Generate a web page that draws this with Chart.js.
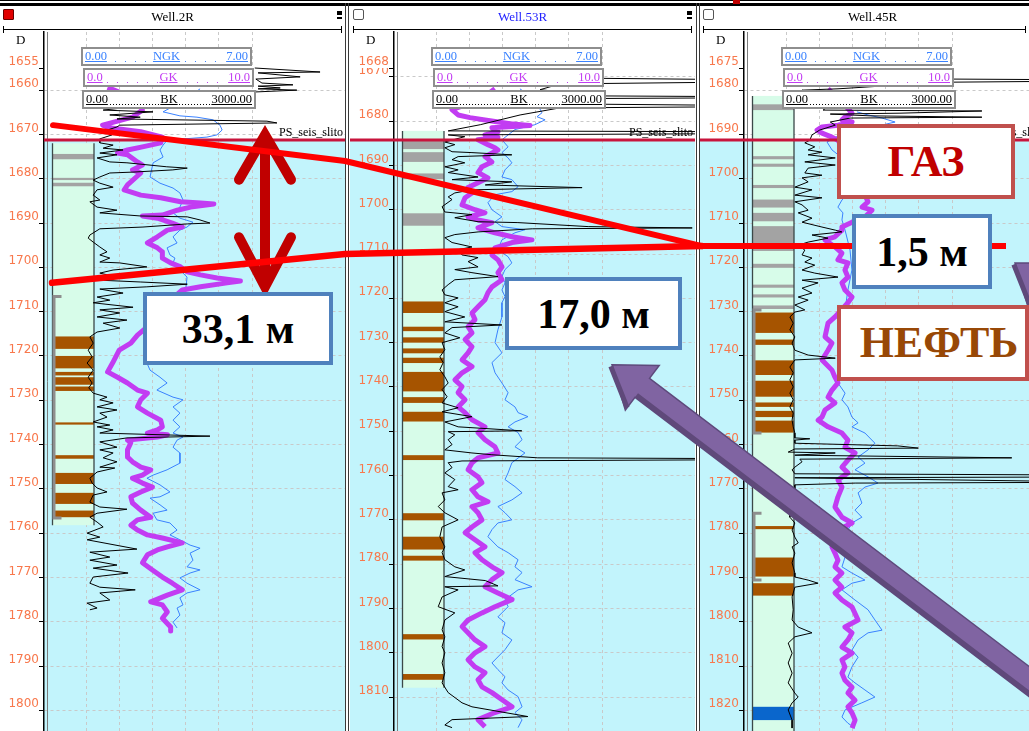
<!DOCTYPE html>
<html lang="ru">
<head>
<meta charset="utf-8">
<title>Well.2R – Well.53R – Well.45R</title>
<script src="https://cdn.jsdelivr.net/npm/chart.js@4.4.1/dist/chart.umd.min.js"></script>
<style>
html,body{margin:0;padding:0;background:#fff;}
#slide{position:relative;width:1029px;height:731px;overflow:hidden;background:#fff;font-family:"Liberation Serif",serif;}
#slide canvas{position:absolute;top:0;}
.bar{position:absolute;left:0;width:1029px;background:#000;}
.sep{position:absolute;top:3px;height:728px;width:1px;background:#3a3a3a;}
.title{position:absolute;top:9px;width:345px;font:13px "Liberation Serif",serif;text-align:center;line-height:15px;}
.rule{position:absolute;top:29px;height:1px;background:#000;}
.rule:before,.rule:after{content:"";position:absolute;top:-3px;width:1px;height:7px;background:#000;}
.rule:before{left:0}.rule:after{right:0}
.chk{position:absolute;top:9px;width:11px;height:11px;box-sizing:border-box;border:1px solid #555;border-radius:2px;background:#fff;}
.chk.on{background:#e00000;border-color:#600;border-radius:1px;}
.pin{position:absolute;top:11px;width:5px;height:4px;background:#000;}
.pin:after{content:"";position:absolute;left:0;top:6px;width:5px;height:2px;background:#000;}
.dlab{position:absolute;top:33px;font:13px "Liberation Serif",serif;line-height:14px;}
.hdr{position:absolute;box-sizing:border-box;height:19px;border:2px solid #8e8e8e;background:#fff;font:12.5px "Liberation Serif",serif;}
.hdr .dots{position:absolute;left:2px;right:2px;bottom:2px;height:1px;}
.hdr span{position:absolute;bottom:1px;line-height:13px;background:#fff;text-decoration:underline;padding:0 1px;}
.note{position:absolute;box-sizing:border-box;background:#fff;border:4px solid #4f81bd;display:flex;align-items:center;justify-content:center;font:bold 42px "Liberation Serif",serif;color:#000;line-height:1;}
.note.fluid{border-color:#c0504d;font-size:44px;}
</style>
</head>
<body>
<div id="slide">
  <canvas id="well0" width="345" height="731" style="left:0px"></canvas>
  <canvas id="well1" width="345" height="731" style="left:350px"></canvas>
  <canvas id="well2" width="345" height="731" style="left:700px"></canvas>
  <div id="chrome"></div>
  <canvas id="overlay" width="1029" height="731" style="left:0px"></canvas>
  <div class="note" style="left:143px;top:292px;width:190px;height:73px;">33,1 м</div>
  <div class="note" style="left:505px;top:277px;width:177px;height:73px;">17,0 м</div>
  <div class="note fluid" style="left:837px;top:124px;width:178px;height:75px;color:#c00000;">ГАЗ</div>
  <div class="note" style="left:852px;top:214px;width:140px;height:75px;">1,5 м</div>
  <div class="note fluid" style="left:837px;top:305px;width:192px;height:76px;color:#984806;padding-left:12px;">НЕФТЬ</div>
</div>
<script>
// ---------- wells, depth labels ----------
const WELL_NAMES = ['Well.2R', 'Well.53R', 'Well.45R'];
const WELL_TITLE_COLORS = ['#000000', '#2323ff', '#000000'];
const START_DEPTH = [1655, 1668, 1675];          // first (top) depth label of each track
const DEPTH_TICKS_2R  = [1660,1670,1680,1690,1700,1710,1720,1730,1740,1750,1760,1770,1780,1790,1800];
const DEPTH_TICKS_53R = [1670,1680,1690,1700,1710,1720,1730,1740,1750,1760,1770,1780,1790,1800,1810];
const DEPTH_TICKS_45R = [1680,1690,1700,1710,1720,1730,1740,1750,1760,1770,1780,1790,1800,1810,1820];
const HORIZON_DEPTH = [1671.25, 1684.25, 1691.25]; // PS_seis_slito
const HORIZON_NAME = 'PS_seis_slito';

// ---------- curve scales ----------
const CURVES = [
  {name: 'NGK', lo: 0, hi: 7,    loText: '0.00', hiText: '7.00',    color: '#3a82ff'},
  {name: 'GK',  lo: 0, hi: 10,   loText: '0.0',  hiText: '10.0',    color: '#c23cf2'},
  {name: 'BK',  lo: 0, hi: 3000, loText: '0.00', hiText: '3000.00', color: '#000000'}
];

// ---------- Well.2R logs: [depth, value] ----------
const GK_2R = [[1659.4,1.3],[1660.0,1.7],[1662.0,3.0],[1664.5,3.4],[1666.1,2.8],[1667.9,1.0],[1668.5,1.4],[1669.4,3.3],[1670.6,4.6],[1671.9,4.5],[1672.8,3.4],[1673.5,2.5],[1674.2,1.9],[1674.6,2.5],[1676.2,3.1],[1676.9,3.4],[1678.0,2.8],[1678.7,3.3],[1681.4,2.5],[1682.5,2.3],[1683.7,3.3],[1684.3,4.5],[1685.2,5.7],[1685.5,6.9],[1685.7,7.7],[1686.4,6.3],[1687.1,5.5],[1688.2,4.6],[1688.4,3.4],[1688.9,4.3],[1690.0,5.2],[1690.9,5.8],[1691.6,4.9],[1693.1,4.3],[1694.5,3.7],[1695.6,4.3],[1696.5,4.6],[1697.9,4.6],[1699.0,5.1],[1699.9,5.7],[1701.0,6.1],[1701.7,6.9],[1702.4,7.9],[1703.1,9.3],[1703.5,8.5],[1704.4,6.9],[1705.1,5.8],[1707.4,5.1],[1710.8,4.3],[1713.7,3.6],[1715.3,3.1],[1717.1,2.7],[1718.7,2.0],[1721.6,1.6],[1723.6,1.3],[1724.8,1.9],[1726.1,2.5],[1727.7,3.1],[1728.4,3.7],[1729.9,3.3],[1731.5,3.1],[1732.9,3.7],[1734.5,4.5],[1736.0,4.6],[1736.7,4.3],[1737.4,3.7],[1737.8,4.9],[1738.3,4.3],[1739.0,2.5],[1739.6,2.7],[1741.2,2.5],[1742.8,2.5],[1743.9,2.8],[1745.1,3.3],[1745.7,3.9],[1746.9,3.4],[1747.6,2.8],[1748.7,3.4],[1749.6,4.0],[1750.7,3.3],[1751.8,2.7],[1753.2,2.8],[1754.8,3.3],[1756.4,3.9],[1757.0,3.1],[1758.2,2.7],[1759.3,3.1],[1760.4,3.7],[1761.1,4.6],[1762.2,5.8],[1763.1,4.9],[1763.8,4.3],[1764.9,3.7],[1766.7,3.4],[1768.3,4.0],[1769.9,4.6],[1771.3,5.2],[1772.8,5.8],[1774.0,4.9],[1775.5,3.9],[1776.2,4.6],[1777.8,4.9],[1779.2,4.6],[1781.2,5.1],[1782.1,5.1]];
const NGK_2R = [[1659.7,4.81],[1662.2,4.17],[1664.9,3.25],[1665.8,3.96],[1666.1,4.68],[1666.7,5.36],[1667.9,5.65],[1669.0,5.74],[1670.1,5.52],[1670.6,5.10],[1671.3,3.42],[1672.4,3.25],[1673.5,3.12],[1675.1,3.25],[1676.4,2.83],[1679.6,2.70],[1681.0,3.12],[1682.1,3.67],[1683.2,3.96],[1684.8,4.09],[1686.4,3.96],[1687.7,3.67],[1688.9,3.96],[1689.8,4.51],[1690.9,4.26],[1691.6,3.96],[1693.1,3.67],[1694.5,3.84],[1695.6,3.42],[1697.2,3.54],[1697.9,3.75],[1699.0,3.67],[1700.6,3.96],[1702.2,4.26],[1707.4,4.17],[1714.1,3.33],[1721.6,2.57],[1723.2,2.70],[1724.8,3.12],[1726.1,3.42],[1727.7,2.99],[1729.3,3.67],[1729.9,4.09],[1731.5,3.67],[1732.9,3.96],[1734.5,3.67],[1736.0,3.96],[1737.4,3.67],[1738.3,4.09],[1739.0,3.84],[1740.6,3.67],[1741.9,3.96],[1744.2,3.96],[1745.7,3.42],[1746.9,2.83],[1747.6,2.57],[1749.1,3.12],[1750.7,3.54],[1751.8,3.12],[1752.1,2.70],[1753.6,3.12],[1754.8,3.42],[1755.5,2.83],[1757.0,2.99],[1757.7,3.54],[1759.3,3.84],[1760.4,3.54],[1761.5,3.96],[1762.7,4.39],[1763.4,4.81],[1764.5,4.39],[1766.1,4.51],[1767.6,4.26],[1768.3,4.81],[1769.0,4.39],[1770.1,3.96],[1771.3,4.26],[1772.8,4.81],[1773.5,4.26],[1774.6,3.96],[1776.2,4.09],[1776.9,3.84],[1778.5,3.96],[1780.1,3.67],[1781.4,3.84]];
const BK_2R = [[1655.0,3050],[1655.9,4230],[1656.1,3110],[1657.0,3870],[1657.5,3070],[1658.4,3180],[1658.8,3740],[1659.1,3110],[1659.5,3510],[1659.7,3110],[1660.0,3810],[1660.4,3070],[1661.8,2600],[1663.1,1340],[1664.5,310],[1664.9,1210],[1665.6,430],[1666.1,980],[1666.5,560],[1667.0,3270],[1667.4,3450],[1667.9,610],[1668.3,560],[1669.2,340],[1670.1,470],[1671.0,250],[1671.9,250],[1672.4,490],[1673.1,310],[1673.5,670],[1674.2,250],[1674.6,560],[1675.3,200],[1676.2,430],[1676.4,740],[1677.3,1460],[1677.6,1830],[1678.0,1570],[1678.5,850],[1678.7,430],[1679.6,250],[1680.3,130],[1681.0,250],[1681.9,490],[1682.5,200],[1683.7,130],[1684.8,250],[1685.2,70],[1686.4,200],[1687.1,560],[1687.7,250],[1688.4,980],[1688.6,1830],[1689.3,2060],[1690.0,2240],[1690.2,1830],[1690.9,1030],[1691.3,250],[1692.7,70],[1693.4,40],[1694.3,130],[1695.4,250],[1696.5,380],[1697.2,250],[1697.9,430],[1698.8,250],[1699.0,610],[1699.9,1100],[1700.6,490],[1701.3,250],[1702.2,560],[1702.9,250],[1703.3,980],[1703.8,1830],[1704.4,1100],[1704.9,250],[1705.8,670],[1706.7,200],[1707.4,430],[1708.0,130],[1709.0,850],[1709.6,250],[1710.3,610],[1711.2,200],[1711.9,740],[1712.6,310],[1713.7,610],[1714.6,200],[1715.7,70],[1717.1,130],[1718.7,40],[1720.2,110],[1721.6,20],[1723.2,130],[1724.8,40],[1726.1,110],[1727.2,50],[1728.4,130],[1729.3,380],[1729.9,250],[1730.6,490],[1731.5,200],[1732.2,560],[1732.9,250],[1733.8,380],[1734.9,130],[1735.6,430],[1736.0,200],[1736.7,490],[1737.4,250],[1738.1,2240],[1738.5,740],[1739.4,250],[1740.6,560],[1741.2,250],[1741.9,490],[1743.0,310],[1743.9,560],[1745.1,250],[1745.3,520],[1746.2,200],[1747.6,70],[1748.7,110],[1749.8,200],[1750.7,380],[1751.4,130],[1753.0,70],[1754.1,250],[1754.6,740],[1755.5,200],[1756.4,70],[1757.5,200],[1758.6,310],[1760.0,20],[1760.9,250],[1761.5,20],[1763.6,920],[1764.3,70],[1765.4,430],[1766.1,70],[1767.2,560],[1767.9,130],[1769.0,760],[1769.9,130],[1771.3,70],[1772.2,250],[1772.8,890],[1773.5,250],[1775.1,430],[1775.8,20],[1776.9,200],[1777.3,70]];

// ---------- Well.53R logs ----------
const GK_53R = [[1672.7,3.55],[1675.2,2.65],[1677.4,0.96],[1678.6,1.33],[1679.2,2.05],[1679.9,3.25],[1680.6,4.46],[1681.0,5.66],[1681.5,3.37],[1682.4,3.73],[1683.1,2.95],[1683.7,3.73],[1684.2,2.53],[1685.3,3.13],[1686.0,3.55],[1686.5,3.73],[1688.0,2.95],[1689.2,3.37],[1690.3,2.77],[1691.6,2.53],[1692.8,3.13],[1693.9,2.53],[1695.0,1.93],[1696.2,2.17],[1697.3,1.75],[1698.9,1.57],[1700.0,2.35],[1700.7,2.95],[1701.6,1.93],[1702.3,2.53],[1702.9,3.37],[1704.1,2.53],[1705.2,3.55],[1706.1,4.58],[1706.8,5.78],[1707.4,4.58],[1708.6,3.55],[1710.2,3.37],[1711.3,3.73],[1712.9,3.98],[1714.2,3.73],[1715.8,3.98],[1717.4,3.37],[1718.7,3.13],[1720.3,2.95],[1721.9,2.53],[1723.3,2.17],[1724.8,2.35],[1726.4,1.93],[1727.8,2.17],[1729.3,1.75],[1730.9,2.17],[1732.3,1.93],[1733.9,1.57],[1735.4,2.17],[1736.8,1.57],[1738.4,1.14],[1739.9,1.57],[1741.3,1.33],[1742.9,1.75],[1744.5,1.33],[1745.8,1.75],[1747.4,2.17],[1749.0,2.95],[1750.3,2.53],[1751.9,2.95],[1753.5,3.55],[1754.9,3.73],[1756.0,2.53],[1757.1,2.17],[1758.7,1.93],[1760.3,2.53],[1761.6,2.77],[1763.2,2.17],[1764.8,2.53],[1765.9,3.13],[1767.0,2.17],[1768.4,2.53],[1770.0,2.77],[1771.6,2.17],[1772.9,1.75],[1774.5,2.35],[1776.1,2.95],[1777.4,2.35],[1779.0,2.77],[1780.6,3.37],[1781.9,3.98],[1783.5,3.37],[1785.1,2.95],[1786.5,3.73],[1788.0,4.58],[1789.6,3.55],[1791.0,2.77],[1792.6,1.93],[1794.1,1.57],[1795.5,1.93],[1797.1,2.35],[1798.6,2.95],[1800.0,2.35],[1801.6,1.93],[1803.2,2.35],[1804.5,2.95],[1806.1,2.53],[1807.7,2.77],[1809.0,3.37],[1810.6,3.98],[1812.2,4.58],[1813.5,3.55],[1815.1,2.53],[1816.7,2.95]];
const NGK_53R = [[1672.7,3.54],[1675.2,4.17],[1678.1,4.47],[1679.0,4.26],[1679.7,4.60],[1680.8,4.17],[1681.9,3.33],[1684.2,2.78],[1685.8,3.04],[1687.1,2.78],[1688.3,3.04],[1689.4,3.20],[1691.0,2.91],[1692.6,2.78],[1693.2,3.20],[1694.8,3.46],[1695.9,3.20],[1696.6,2.49],[1698.4,2.19],[1700.0,2.36],[1701.6,2.78],[1702.7,2.49],[1703.8,2.78],[1704.5,3.75],[1705.2,3.33],[1706.8,2.78],[1709.0,2.61],[1710.6,3.04],[1712.0,3.20],[1713.5,2.91],[1715.1,2.78],[1716.5,2.91],[1718.1,2.78],[1719.6,2.91],[1721.0,2.78],[1724.2,2.78],[1727.1,2.61],[1730.0,2.49],[1732.3,2.78],[1734.5,2.36],[1736.8,2.49],[1739.1,2.78],[1741.3,3.04],[1742.9,2.91],[1744.5,3.33],[1745.8,3.46],[1746.7,3.88],[1747.9,3.33],[1749.0,3.04],[1750.3,3.46],[1751.9,3.63],[1753.5,3.33],[1754.9,3.75],[1757.1,3.20],[1759.4,3.04],[1760.9,2.91],[1762.5,3.33],[1763.9,3.63],[1765.5,3.20],[1767.0,2.61],[1768.4,2.91],[1770.0,3.20],[1770.7,2.61],[1772.2,2.36],[1773.8,2.19],[1776.1,2.61],[1777.4,3.04],[1779.0,3.46],[1780.6,3.33],[1781.9,3.63],[1783.5,3.33],[1785.1,4.05],[1785.8,3.46],[1788.0,2.91],[1789.6,3.04],[1791.9,2.61],[1793.2,2.91],[1795.5,2.78],[1797.1,3.20],[1799.3,2.91],[1802.3,2.36],[1803.8,2.61],[1805.4,2.91],[1806.8,2.78],[1808.4,3.04],[1809.9,3.46],[1812.2,3.63],[1813.5,3.33],[1815.1,3.63],[1816.9,3.46]];
const BK_53R = [[1668.4,1520],[1670.2,1880],[1670.7,6000],[1671.1,6000],[1671.6,2240],[1672.9,1880],[1674.3,2960],[1674.5,6000],[1674.7,6000],[1674.9,2600],[1676.1,2240],[1676.5,6000],[1676.7,6000],[1677.0,2240],[1678.6,1520],[1680.8,800],[1682.2,220],[1682.4,6000],[1682.8,6000],[1683.1,220],[1683.5,520],[1684.7,160],[1685.3,340],[1686.0,160],[1686.9,290],[1687.1,650],[1687.6,1370],[1688.0,400],[1688.7,290],[1689.4,520],[1690.3,160],[1691.0,400],[1691.6,220],[1692.6,760],[1693.2,290],[1693.7,1370],[1694.4,890],[1695.0,2640],[1695.5,650],[1696.2,340],[1697.1,220],[1697.7,290],[1699.3,110],[1700.5,160],[1701.1,650],[1701.8,340],[1702.7,760],[1702.9,1480],[1703.8,2750],[1704.1,4630],[1704.3,1740],[1705.0,760],[1705.6,340],[1706.3,160],[1707.4,290],[1708.4,650],[1709.0,400],[1710.2,470],[1710.8,760],[1711.7,580],[1712.9,760],[1713.5,340],[1714.2,650],[1715.1,1120],[1715.8,340],[1716.9,220],[1718.1,110],[1719.2,160],[1719.9,400],[1721.0,160],[1721.9,400],[1723.0,160],[1724.2,520],[1725.3,160],[1726.0,1190],[1726.6,290],[1727.8,160],[1728.9,430],[1730.0,110],[1731.6,160],[1733.2,70],[1734.5,130],[1736.1,70],[1737.7,160],[1739.1,220],[1740.6,110],[1742.2,200],[1743.6,110],[1744.7,400],[1745.6,110],[1746.7,650],[1747.9,160],[1749.0,400],[1749.9,1550],[1750.1,220],[1750.8,340],[1751.9,220],[1753.0,290],[1754.2,160],[1754.9,650],[1755.3,1010],[1756.0,1840],[1756.2,6000],[1756.4,6000],[1756.7,470],[1757.1,220],[1758.2,290],[1759.4,160],[1760.9,340],[1762.5,220],[1763.2,400],[1763.9,110],[1765.5,160],[1767.0,40],[1768.4,160],[1770.0,400],[1771.6,110],[1773.8,70],[1776.1,160],[1777.4,110],[1779.0,160],[1780.6,340],[1781.3,520],[1782.8,160],[1783.7,890],[1784.9,1120],[1785.1,160],[1785.8,400],[1787.4,110],[1789.6,40],[1791.0,340],[1792.6,160],[1794.8,110],[1796.4,160],[1798.6,110],[1800.0,160],[1802.3,110],[1804.5,160],[1806.8,110],[1809.0,220],[1811.3,470],[1812.2,650],[1814.4,1660],[1815.1,290],[1816.3,160],[1816.9,290]];

// ---------- Well.45R logs ----------
const GK_45R = [[1679.7,2.53],[1682.2,3.25],[1685.2,3.98],[1686.1,3.55],[1686.7,3.37],[1687.2,3.98],[1687.9,3.13],[1688.3,2.17],[1689.0,1.87],[1689.7,2.17],[1690.6,2.77],[1691.3,3.13],[1692.8,3.37],[1695.8,3.86],[1700.3,4.46],[1703.7,4.76],[1705.2,4.94],[1706.4,4.58],[1707.1,5.18],[1708.6,4.76],[1709.8,3.98],[1710.9,3.37],[1711.6,3.37],[1713.1,2.95],[1713.8,2.35],[1715.4,2.95],[1716.8,3.37],[1718.3,3.13],[1719.0,3.73],[1720.6,3.55],[1722.2,3.73],[1723.5,3.37],[1725.1,3.55],[1726.7,3.98],[1728.0,3.73],[1731.2,2.95],[1732.6,2.53],[1735.7,2.35],[1737.1,2.77],[1738.7,2.53],[1740.9,2.17],[1743.2,2.77],[1744.8,2.95],[1746.1,3.13],[1747.7,2.77],[1749.3,2.53],[1750.6,2.95],[1752.2,2.35],[1753.8,2.17],[1754.5,1.93],[1756.0,2.53],[1757.4,3.37],[1759.0,3.73],[1760.6,3.55],[1761.9,4.16],[1763.5,3.73],[1765.1,3.37],[1766.4,3.73],[1768.0,3.13],[1769.6,3.37],[1771.8,3.13],[1774.1,2.95],[1776.4,3.37],[1777.7,3.98],[1779.3,3.13],[1781.5,2.95],[1783.1,2.77],[1784.5,2.95],[1786.1,3.13],[1787.6,2.95],[1789.0,3.37],[1790.6,2.95],[1792.2,3.37],[1793.5,2.95],[1795.1,3.37],[1796.7,3.98],[1799.6,4.34],[1801.2,3.55],[1802.5,3.98],[1804.1,3.73],[1805.7,3.37],[1807.1,3.98],[1808.6,3.37],[1810.2,3.55],[1811.6,3.37],[1813.2,3.55],[1814.8,3.98],[1816.1,3.73],[1817.7,4.16],[1819.2,3.73],[1820.6,3.98],[1822.2,4.16],[1824.0,3.98]];
const NGK_45R = [[1684.9,2.99],[1685.6,3.46],[1686.3,4.05],[1687.2,4.60],[1688.5,3.54],[1690.1,2.28],[1691.7,1.73],[1693.5,1.94],[1695.8,2.49],[1700.3,2.61],[1704.1,2.49],[1704.8,2.36],[1706.4,2.19],[1707.7,2.40],[1709.3,2.36],[1711.6,2.49],[1716.1,2.70],[1720.6,2.78],[1725.1,2.61],[1729.6,2.49],[1734.1,2.36],[1738.7,2.61],[1743.2,2.49],[1746.1,2.19],[1748.4,2.49],[1749.9,2.36],[1751.5,2.61],[1753.8,2.78],[1755.1,3.04],[1756.0,2.78],[1757.4,3.33],[1759.7,3.75],[1761.2,3.46],[1762.8,3.04],[1764.2,3.33],[1765.7,2.91],[1767.3,3.46],[1768.7,3.88],[1769.6,3.33],[1770.9,3.04],[1773.2,3.20],[1774.8,2.91],[1776.4,3.20],[1777.7,2.78],[1779.3,2.61],[1781.5,2.61],[1783.1,2.36],[1785.4,2.49],[1787.6,2.36],[1789.0,2.78],[1790.6,3.33],[1791.3,2.78],[1792.8,2.36],[1795.1,2.91],[1797.3,3.46],[1799.6,3.75],[1801.9,4.05],[1802.5,3.46],[1804.1,3.04],[1806.4,2.78],[1808.0,3.04],[1810.2,2.78],[1812.5,2.61],[1813.8,2.91],[1815.4,3.33],[1817.0,3.75],[1818.3,3.20],[1819.9,2.49],[1821.5,2.36],[1822.9,2.61],[1824.0,2.91]];
const BK_45R = [[1676.6,2060],[1677.5,2960],[1677.7,6000],[1677.9,6000],[1678.2,2960],[1679.1,1700],[1679.7,940],[1680.0,290],[1681.1,610],[1683.4,800],[1684.5,670],[1684.7,3540],[1685.2,2060],[1685.4,800],[1685.8,1520],[1686.1,3540],[1686.3,1160],[1687.2,800],[1687.9,890],[1689.0,610],[1690.1,470],[1691.3,430],[1691.9,340],[1692.8,520],[1693.5,400],[1694.0,650],[1694.6,400],[1695.3,890],[1696.2,340],[1696.9,890],[1697.6,400],[1698.7,340],[1699.2,650],[1699.8,290],[1700.7,400],[1701.9,160],[1702.5,470],[1703.7,160],[1704.3,650],[1705.2,160],[1705.9,290],[1707.1,400],[1707.7,220],[1708.9,470],[1709.8,290],[1710.9,650],[1711.6,890],[1712.0,1010],[1712.7,470],[1713.4,760],[1714.3,400],[1715.0,220],[1716.1,340],[1717.2,290],[1717.9,470],[1718.8,340],[1719.5,520],[1720.6,290],[1721.3,520],[1722.2,940],[1722.9,290],[1723.5,580],[1724.7,290],[1725.8,470],[1726.7,220],[1727.4,400],[1728.5,160],[1729.6,340],[1730.1,160],[1731.2,70],[1732.6,130],[1734.1,70],[1735.7,160],[1737.1,110],[1738.7,160],[1739.8,400],[1740.5,890],[1740.9,160],[1742.5,70],[1743.8,130],[1745.4,70],[1747.0,130],[1748.4,70],[1749.9,130],[1751.5,70],[1752.9,130],[1754.5,110],[1756.0,130],[1757.4,160],[1758.5,160],[1758.7,430],[1759.0,160],[1759.7,160],[1760.3,2020],[1760.8,2390],[1761.0,160],[1761.7,40],[1761.9,890],[1762.4,160],[1763.0,4080],[1763.3,250],[1763.9,290],[1765.1,160],[1765.7,110],[1766.6,160],[1766.9,6000],[1767.3,6000],[1767.5,160],[1768.5,6000],[1768.7,1250],[1769.1,160],[1769.6,160],[1770.3,160],[1772.5,110],[1774.8,70],[1776.4,70],[1777.7,160],[1779.3,110],[1780.9,160],[1782.2,220],[1783.1,110],[1784.5,160],[1786.7,110],[1789.0,160],[1789.9,160],[1790.6,400],[1791.3,580],[1792.2,160],[1794.4,110],[1797.3,130],[1799.6,110],[1801.2,220],[1802.5,470],[1803.4,160],[1804.8,40],[1807.1,110],[1809.3,40],[1811.6,110],[1813.8,40],[1816.1,160],[1817.0,220],[1818.3,110],[1819.9,40],[1822.2,110],[1824.0,110]];

// ---------- lithology: [top, bottom] in metres ----------
const COLUMN_2R  = [1672.0, 1758.2];
const COLUMN_53R = [1682.2, 1807.9];
const COLUMN_45R = [1681.3, 1830.0];
const CLAY_2R  = [[1674.4,1675.6],[1679.8,1680.3],[1680.9,1681.7]];
const CLAY_53R = [[1684.3,1686.3],[1687.0,1689.2],[1691.8,1693.1],[1700.8,1703.6]];
const CLAY_45R = [[1683.2,1684.5],[1694.9,1695.6],[1696.6,1697.3],[1701.4,1702.1],[1704.7,1706.5],[1707.7,1709.6],[1710.7,1716.3],[1719.2,1720.1],[1723.9,1724.6],[1726.1,1726.8],[1728.6,1729.4]];
const OIL_2R  = [[1715.6,1718.4],[1720.0,1722.8],[1723.6,1724.4],[1724.8,1726.5],[1726.9,1727.9],[1735.0,1735.5],[1742.4,1743.2],[1746.4,1748.9],[1750.9,1753.4],[1754.9,1756.4]];
const OIL_53R = [[1720.7,1723.3],[1726.4,1727.4],[1728.8,1730.0],[1731.3,1732.4],[1733.4,1734.6],[1736.6,1741.0],[1742.3,1743.6],[1745.6,1747.8],[1755.4,1756.5],[1768.5,1770.1],[1773.8,1776.7],[1778.1,1779.2],[1795.8,1797.0],[1804.8,1806.1]];
const OIL_45R = [[1730.2,1734.8],[1736.3,1737.5],[1741.0,1744.3],[1745.6,1749.2],[1750.5,1751.5],[1752.4,1753.8],[1754.6,1757.3],[1778.4,1779.1],[1785.5,1789.8],[1791.3,1794.1]];
const WATER_45R = [[1819.2,1822.2]];
const PERF_2R  = [[1706.6,1756.6]];
const PERF_53R = [];
const PERF_45R = [[1729.6,1757.4],[1775.5,1790.6]];

// ---------- correlation marks (x: slide position, y: Well.2R depth scale) ----------
const CONTACT_TOP    = [[53,1667.9],[345,1676.0],[702,1695.2]];
const CONTACT_BOTTOM = [[52,1703.5],[345,1697.0],[702,1695.2]];
const CONTACT_45R    = [[700,1695.2],[1006,1695.2]];
const SPAN_SHAFT     = [[265,1670.6],[265,1703.9]];
const SPAN_HEAD_TOP  = [[239,1680.2],[265,1670.1],[291,1680.2]];
const SPAN_HEAD_BOT  = [[239,1693.2],[265,1704.4],[291,1693.2]];
const POINTERS = [
  {tip: [612, 1722.0], tail: [1060, 1798.8]},
  {tip: [1015, 1699.0], tail: [1200, 1730.6]}
];

// ---------- colours ----------
const C = {
  label: '#f8784c', grid: '#c9c9c9', water: '#c2f4fc', sand: '#d7fce9', clay: '#a3a3a3',
  oil: '#a65400', aquifer: '#0a66cc', perf: '#8e8e8e', edge: '#3b4848', horizon: '#c8143c'
};

const WELLS = [
  {gk: GK_2R,  ngk: NGK_2R,  bk: BK_2R,  ticks: DEPTH_TICKS_2R,  column: COLUMN_2R,  clay: CLAY_2R,  oil: OIL_2R,  water: [],        perf: PERF_2R},
  {gk: GK_53R, ngk: NGK_53R, bk: BK_53R, ticks: DEPTH_TICKS_53R, column: COLUMN_53R, clay: CLAY_53R, oil: OIL_53R, water: [],        perf: PERF_53R},
  {gk: GK_45R, ngk: NGK_45R, bk: BK_45R, ticks: DEPTH_TICKS_45R, column: COLUMN_45R, clay: CLAY_45R, oil: OIL_45R, water: WATER_45R, perf: PERF_45R}
];

// ---------- layout ----------
const PANEL_LEFT = [0, 350, 700];
const AXIS_W = 44;          // depth label strip
const TRACK_OFF = 42;       // curve zero from the depth axis
const TRACK_W = 166;        // width of the header scale
const PX_PER_M = 4.43;
const LABEL_ROW = 68;       // row of the first depth label
const AREA_TOP = 32, AREA_BOTTOM = 731;

Chart.defaults.font.family = '"DejaVu Sans", sans-serif';

// ---------- panel chrome ----------
(function buildChrome() {
  const host = document.getElementById('chrome');
  let html = '<div class="bar" style="top:0;height:1px"></div><div class="bar" style="top:3px;height:3px"></div>';
  html += '<div style="position:absolute;left:733px;top:0;width:7px;height:4px;background:#c00000"></div>';
  [345, 348, 696, 699].forEach(x => { html += `<div class="sep" style="left:${x}px"></div>`; });
  PANEL_LEFT.forEach((L, i) => {
    const right = Math.min(L + 345, 1029);
    html += `<div class="chk${i === 0 ? ' on' : ''}" style="left:${L + 3}px"></div>`;
    html += `<div class="title" style="left:${L}px;color:${WELL_TITLE_COLORS[i]}">${WELL_NAMES[i]}</div>`;
    if (L + 338 < 1029) html += `<div class="pin" style="left:${L + 337}px"></div>`;
    html += `<div class="rule" style="left:${L + 3}px;width:${right - L - 6}px"></div>`;
    html += `<div class="dlab" style="left:${L + 16}px">D</div>`;
    const ax = L + AXIS_W;
    const tops = [47, 68, 90], offs = [37, 39, 38], widths = [171, 171, 174];
    CURVES.forEach((c, k) => {
      const dense = c.name === 'BK';
      const dots = `background:repeating-linear-gradient(90deg,${c.color} 0 1px,transparent 1px ${dense ? 3 : 10}px)`;
      html += `<div class="hdr" style="left:${ax + offs[k]}px;top:${tops[k]}px;width:${widths[k]}px;color:${c.color}">` +
        `<div class="dots" style="${dots}"></div>` +
        `<span style="left:1px">${c.loText}</span>` +
        `<span style="left:50%;transform:translateX(-50%)">${c.name}</span>` +
        `<span style="right:1px">${c.hiText}</span></div>`;
    });
  });
  host.innerHTML = html;
})();

// ---------- one chart per well ----------
function lithoPlugin(i) {
  const w = WELLS[i];
  return {
    id: 'litho' + i,
    beforeDraw(chart) {
      const {ctx, chartArea: a, scales: {y}} = chart;
      const hy = y.getPixelForValue(HORIZON_DEPTH[i]);
      ctx.save();
      ctx.fillStyle = '#fff';
      ctx.fillRect(0, 0, chart.width, chart.height);
      ctx.fillStyle = C.water;
      const x0 = i === 0 ? a.left : 0;
      ctx.fillRect(x0, hy, chart.width - x0, chart.height - hy);
      ctx.restore();
    },
    beforeDatasetsDraw(chart) {
      const {ctx, chartArea: a, scales: {y}} = chart;
      const py = d => y.getPixelForValue(d);
      const cx0 = a.left + 8.5, cx1 = a.left + 50;
      ctx.save();
      ctx.beginPath(); ctx.rect(a.left, a.top, a.right - a.left, a.bottom - a.top); ctx.clip();
      ctx.strokeStyle = '#7b7b7b'; ctx.lineWidth = 1;
      ctx.beginPath(); ctx.moveTo(a.left + 3.5, a.top); ctx.lineTo(a.left + 3.5, a.bottom); ctx.stroke();
      const band = (list, color) => {
        ctx.fillStyle = color;
        list.forEach(b => { const t = py(b[0]); ctx.fillRect(cx0, t, cx1 - cx0, py(b[1]) - t); });
      };
      band([w.column], C.sand);
      band(w.clay, C.clay);
      band(w.oil, C.oil);
      band(w.water, C.aquifer);
      ctx.strokeStyle = C.edge; ctx.lineWidth = 1.3;
      const t = py(w.column[0]), b = py(w.column[1]);
      ctx.beginPath();
      ctx.moveTo(cx0, t); ctx.lineTo(cx0, b);
      ctx.moveTo(cx1, t); ctx.lineTo(cx1, b);
      ctx.stroke();
      ctx.strokeStyle = C.perf; ctx.lineWidth = 3;
      w.perf.forEach(p => {
        const p0 = py(p[0]), p1 = py(p[1]);
        ctx.beginPath();
        ctx.moveTo(cx0 + 9, p0); ctx.lineTo(cx0 + 1.5, p0); ctx.lineTo(cx0 + 1.5, p1); ctx.lineTo(cx0 + 9, p1);
        ctx.stroke();
      });
      ctx.restore();
    },
    afterDatasetsDraw(chart) {
      const {ctx, chartArea: a, scales: {y}} = chart;
      const hy = y.getPixelForValue(HORIZON_DEPTH[i]);
      ctx.save();
      ctx.strokeStyle = C.horizon; ctx.lineWidth = 3;
      ctx.beginPath(); ctx.moveTo(i === 0 ? a.left : 0, hy); ctx.lineTo(chart.width, hy); ctx.stroke();
      ctx.fillStyle = '#000'; ctx.font = '12px "Liberation Serif", serif';
      ctx.textAlign = 'right'; ctx.textBaseline = 'alphabetic';
      ctx.fillText(HORIZON_NAME, a.right - 2, hy - 4);
      // first depth label of the track
      const sy = y.getPixelForValue(START_DEPTH[i]);
      ctx.fillStyle = '#fff'; ctx.fillRect(4, sy - 14, AXIS_W - 6, 14);
      ctx.fillStyle = C.label; ctx.font = '12px "DejaVu Sans", sans-serif';
      ctx.textBaseline = 'middle';
      ctx.fillText(String(START_DEPTH[i]), AXIS_W - 5, sy - 6);
      ctx.strokeStyle = '#000'; ctx.lineWidth = 1;
      ctx.beginPath(); ctx.moveTo(AXIS_W - 5, sy + 0.5); ctx.lineTo(AXIS_W, sy + 0.5); ctx.stroke();
      ctx.restore();
    }
  };
}

function buildWell(i) {
  const w = WELLS[i];
  const canvas = document.getElementById('well' + i);
  const areaW = canvas.width - AXIS_W;
  const yMin = START_DEPTH[i] - (LABEL_ROW - AREA_TOP) / PX_PER_M;
  const yMax = yMin + (AREA_BOTTOM - AREA_TOP) / PX_PER_M;
  const range = c => {
    const k = (c.hi - c.lo) / TRACK_W;
    return {min: c.lo - TRACK_OFF * k, max: c.lo + (areaW - TRACK_OFF) * k};
  };
  const [ngkC, gkC, bkC] = CURVES;
  const noPad = s => { s.paddingTop = 0; s.paddingBottom = 0; s.paddingLeft = 0; s.paddingRight = 0; };
  const line = (arr, axis, color, width) => ({
    data: arr.map(p => ({x: p[1], y: p[0]})),
    xAxisID: axis, yAxisID: 'y', borderColor: color, borderWidth: width,
    showLine: true, pointRadius: 0, fill: false, tension: 0, borderJoinStyle: 'round'
  });
  return new Chart(canvas, {
    type: 'scatter',
    data: {datasets: [
      line(w.bk, 'xBK', bkC.color, 1),
      line(w.gk, 'xGK', gkC.color, 5),
      line(w.ngk, 'xNGK', ngkC.color, 1)
    ]},
    options: {
      responsive: false, animation: false, events: [],
      layout: {padding: {top: AREA_TOP, left: 0, right: 0, bottom: 0}, autoPadding: false},
      plugins: {legend: {display: false}, tooltip: {enabled: false}},
      scales: {
        y: {
          type: 'linear', position: 'left', reverse: true, min: yMin, max: yMax,
          afterFit(s) { s.width = AXIS_W; noPad(s); },
          afterBuildTicks(s) { s.ticks = w.ticks.map(v => ({value: v})); },
          ticks: {color: C.label, font: {size: 12}, padding: 0, labelOffset: -6, autoSkip: false, callback: v => String(v)},
          grid: {color: C.grid, lineWidth: 1, drawTicks: true, tickLength: 5, tickColor: '#000', tickWidth: 1},
          border: {display: true, color: '#000', width: 1.5, dash: [3, 3]}
        },
        xBK: {
          type: 'linear', position: 'bottom', ...range(bkC),
          afterFit(s) { s.height = 0; noPad(s); },
          afterBuildTicks(s) { s.ticks = [0, 600, 1200, 1800, 2400, 3000].map(v => ({value: v})); },
          ticks: {display: false},
          grid: {color: C.grid, lineWidth: 1, drawTicks: false},
          border: {display: false, dash: [3, 3]}
        },
        xGK: {type: 'linear', display: false, ...range(gkC)},
        xNGK: {type: 'linear', display: false, ...range(ngkC)}
      }
    },
    plugins: [lithoPlugin(i)]
  });
}
[0, 1, 2].forEach(buildWell);

// ---------- correlation overlay ----------
function drawPointer(ctx, tx, ty, ex, ey) {
  const len = Math.hypot(ex - tx, ey - ty);
  const ux = (ex - tx) / len, uy = (ey - ty) / len;
  const nx = -uy, ny = ux;
  const H = 38, HW = 28, SW = 12;
  const bx = tx + ux * H, by = ty + uy * H;
  ctx.save();
  ctx.fillStyle = '#8064a2';
  ctx.strokeStyle = '#5e4a7c'; ctx.lineWidth = 1.5; ctx.lineJoin = 'miter';
  ctx.beginPath();
  ctx.moveTo(tx, ty);
  ctx.lineTo(bx + nx * HW, by + ny * HW);
  ctx.lineTo(bx + nx * SW, by + ny * SW);
  ctx.lineTo(ex + nx * SW, ey + ny * SW);
  ctx.lineTo(ex - nx * SW, ey - ny * SW);
  ctx.lineTo(bx - nx * SW, by - ny * SW);
  ctx.lineTo(bx - nx * HW, by - ny * HW);
  ctx.closePath();
  ctx.fill(); ctx.stroke();
  // shaded lower edge
  ctx.strokeStyle = '#5f497a'; ctx.lineWidth = 5;
  ctx.beginPath();
  ctx.moveTo(bx + nx * (SW - 2.5), by + ny * (SW - 2.5));
  ctx.lineTo(ex + nx * (SW - 2.5), ey + ny * (SW - 2.5));
  ctx.moveTo(tx + nx * 2, ty + ny * 2);
  ctx.lineTo(bx + nx * (HW - 3), by + ny * (HW - 3));
  ctx.stroke();
  ctx.restore();
}

(function buildOverlay() {
  const topDepth = START_DEPTH[0] - LABEL_ROW / PX_PER_M;
  const botDepth = topDepth + 731 / PX_PER_M;
  const seg = (arr, color, width, cap, join) => ({
    data: arr.map(p => ({x: p[0], y: p[1]})), xAxisID: 'sx', yAxisID: 'sy',
    borderColor: color, borderWidth: width, showLine: true, pointRadius: 0, fill: false,
    tension: 0, borderCapStyle: cap, borderJoinStyle: join
  });
  new Chart(document.getElementById('overlay'), {
    type: 'scatter',
    data: {datasets: [
      seg(CONTACT_TOP, '#ff0000', 6, 'round', 'round'),
      seg(CONTACT_BOTTOM, '#ff0000', 6.5, 'round', 'round'),
      seg(CONTACT_45R, '#ff0000', 6, 'butt', 'round'),
      seg(SPAN_SHAFT, '#c00000', 10, 'butt', 'miter'),
      seg(SPAN_HEAD_TOP, '#c00000', 10, 'round', 'miter'),
      seg(SPAN_HEAD_BOT, '#c00000', 10, 'round', 'miter')
    ]},
    options: {
      responsive: false, animation: false, events: [],
      layout: {padding: 0, autoPadding: false},
      plugins: {legend: {display: false}, tooltip: {enabled: false}},
      scales: {
        sx: {type: 'linear', display: false, min: 0, max: 1029},
        sy: {type: 'linear', display: false, reverse: true, min: topDepth, max: botDepth}
      }
    },
    plugins: [{
      id: 'pointers',
      afterDatasetsDraw(chart) {
        const {ctx, scales: {sx, sy}} = chart;
        POINTERS.forEach(p => drawPointer(ctx,
          sx.getPixelForValue(p.tip[0]), sy.getPixelForValue(p.tip[1]),
          sx.getPixelForValue(p.tail[0]), sy.getPixelForValue(p.tail[1])));
      }
    }]
  });
})();
</script>
</body>
</html>
